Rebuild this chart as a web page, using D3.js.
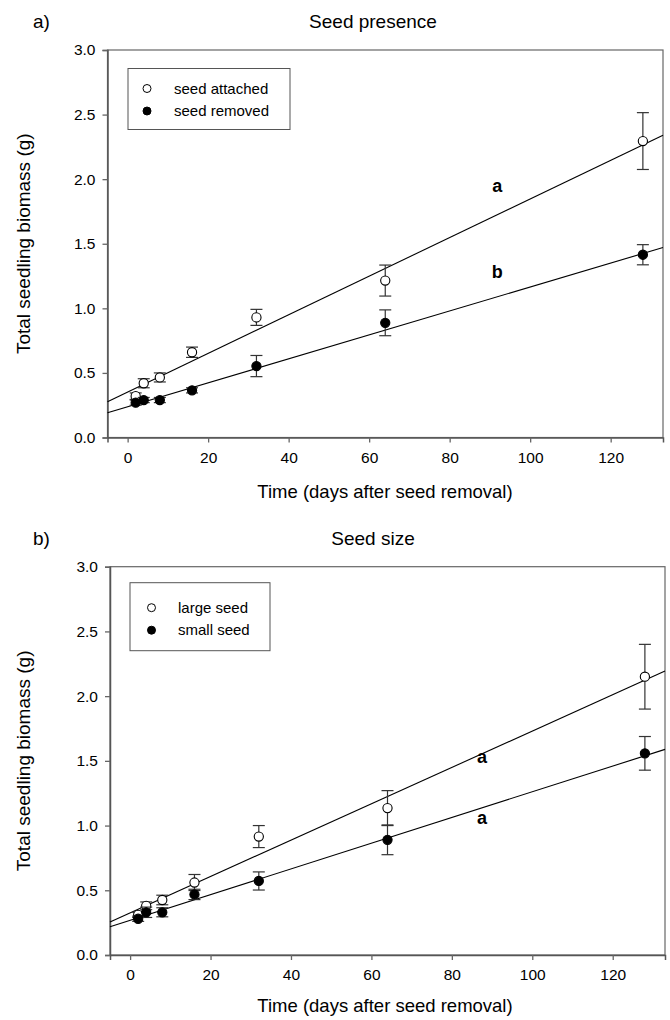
<!DOCTYPE html>
<html>
<head>
<meta charset="utf-8">
<script src="https://cdn.jsdelivr.net/npm/d3@7"></script>
<style>
  body { margin: 0; background: #fff; }
  svg { display: block; font-family: "Liberation Sans", Arial, sans-serif; }
</style>
</head>
<body>
<div id="chart"></div>
<script>
// sampling days
const days = [2, 4, 8, 16, 32, 64, 128];

// panel a: seed presence
const attachedMean = [0.32, 0.42, 0.465, 0.66, 0.93, 1.215, 2.295];
const attachedSE = [0.025, 0.035, 0.035, 0.04, 0.062, 0.12, 0.22];
const removedMean = [0.27, 0.29, 0.29, 0.365, 0.553, 0.888, 1.415];
const removedSE = [0.02, 0.02, 0.02, 0.02, 0.082, 0.1, 0.078];
const attachedFit = [0.352, 0.01495]; // intercept, slope
const removedFit = [0.238, 0.00927];

// panel b: seed size
const largeMean = [0.31, 0.38, 0.425, 0.56, 0.915, 1.135, 2.15];
const largeSE = [0.02, 0.03, 0.037, 0.062, 0.085, 0.135, 0.25];
const smallMean = [0.28, 0.33, 0.33, 0.468, 0.572, 0.89, 1.558];
const smallSE = [0.02, 0.04, 0.035, 0.04, 0.07, 0.115, 0.13];
const largeFit = [0.326, 0.01404];
const smallFit = [0.268, 0.00993];

const xTicks = [0, 20, 40, 60, 80, 100, 120];
const yTicks = [0, 0.5, 1, 1.5, 2, 2.5, 3];

const panels = [
  {
    tag: "a)", title: "Seed presence",
    left: 107.5, right: 663, top: 50, bottom: 437.5, xlab: 498,
    series: [
      { name: "seed attached", mean: attachedMean, se: attachedSE, fit: attachedFit, open: true },
      { name: "seed removed", mean: removedMean, se: removedSE, fit: removedFit, open: false }
    ],
    letters: [["a", 91.8, 1.95], ["b", 91.8, 1.28]],
    legend: { x: 128, y: 68.5, w: 162, h: 61, sym: 19, txt: 46, row0: 20, gap: 22.5 }
  },
  {
    tag: "b)", title: "Seed size",
    left: 110, right: 665, top: 566.7, bottom: 955, xlab: 1012,
    series: [
      { name: "large seed", mean: largeMean, se: largeSE, fit: largeFit, open: true },
      { name: "small seed", mean: smallMean, se: smallSE, fit: smallFit, open: false }
    ],
    letters: [["a", 87.5, 1.53], ["a", 87.5, 1.06]],
    legend: { x: 130, y: 582.7, w: 140, h: 68, sym: 21.5, txt: 48, row0: 25, gap: 22.5 }
  }
];

const svg = d3.select("#chart").append("svg")
  .attr("width", 670)
  .attr("height", 1020);

panels.forEach(p => {
  const x = d3.scaleLinear().domain([-5, 133]).range([p.left, p.right]);
  const y = d3.scaleLinear().domain([0, 3]).range([p.bottom, p.top]);
  const g = svg.append("g");

  // frame
  g.append("rect")
    .attr("x", p.left).attr("y", p.top)
    .attr("width", p.right - p.left).attr("height", p.bottom - p.top)
    .attr("fill", "none").attr("stroke", "#666").attr("stroke-width", 1.2);

  const xAxis = g.append("g")
    .attr("transform", `translate(0,${p.bottom})`)
    .call(d3.axisBottom(x).tickValues(xTicks).tickSize(5).tickPadding(9).tickFormat(d3.format("d")));
  const yAxis = g.append("g")
    .attr("transform", `translate(${p.left},0)`)
    .call(d3.axisLeft(y).tickValues(yTicks).tickSize(5).tickPadding(7).tickFormat(d3.format(".1f")));
  [xAxis, yAxis].forEach(a => {
    a.select(".domain").attr("stroke", "#555").attr("stroke-width", 1.5);
    a.selectAll(".tick line").attr("stroke", "#666").attr("stroke-width", 1.3);
    a.selectAll(".tick text").attr("fill", "#000").style("font-size", "15.5px")
      .style("font-family", "'Liberation Sans', Arial, sans-serif");
  });

  // titles
  g.append("text").attr("x", 33).attr("y", p.top - 22)
    .style("font-size", "19px").text(p.tag);
  g.append("text").attr("x", 373).attr("y", p.top - 22)
    .attr("text-anchor", "middle").style("font-size", "19px").text(p.title);
  g.append("text").attr("x", 385).attr("y", p.xlab)
    .attr("text-anchor", "middle").style("font-size", "18.5px")
    .text("Time (days after seed removal)");
  g.append("text")
    .attr("transform", `translate(30,${(p.top + p.bottom) / 2}) rotate(-90)`)
    .attr("text-anchor", "middle").style("font-size", "19px")
    .text("Total seedling biomass (g)");

  // regression lines
  p.series.forEach(s => {
    const [b0, b1] = s.fit;
    g.append("line")
      .attr("x1", x(-5)).attr("y1", y(b0 + b1 * -5))
      .attr("x2", x(133)).attr("y2", y(b0 + b1 * 133))
      .attr("stroke", "#000").attr("stroke-width", 1.1);
  });

  // error bars and points
  p.series.forEach(s => {
    const pts = days.map((d, i) => ({ d, m: s.mean[i], e: s.se[i] }));
    const eb = g.append("g").attr("stroke", "#333").attr("stroke-width", 1.2);
    pts.forEach(pt => {
      const cx = x(pt.d);
      eb.append("line").attr("x1", cx).attr("x2", cx)
        .attr("y1", y(pt.m - pt.e)).attr("y2", y(pt.m + pt.e));
      [pt.m - pt.e, pt.m + pt.e].forEach(v => {
        eb.append("line").attr("x1", cx - 6).attr("x2", cx + 6)
          .attr("y1", y(v)).attr("y2", y(v));
      });
    });
    g.selectAll(null).data(pts).enter().append("circle")
      .attr("cx", d => x(d.d)).attr("cy", d => y(d.m)).attr("r", 4.6)
      .attr("fill", s.open ? "#fff" : "#000")
      .attr("stroke", "#000").attr("stroke-width", 1.1);
  });

  // significance letters
  p.letters.forEach(([t, dx, dy]) => {
    g.append("text").attr("x", x(dx)).attr("y", y(dy))
      .attr("text-anchor", "middle").attr("dy", "0.35em")
      .style("font-size", "18px").style("font-weight", "bold").text(t);
  });

  // legend
  const L = p.legend;
  g.append("rect").attr("x", L.x).attr("y", L.y).attr("width", L.w).attr("height", L.h)
    .attr("fill", "#fff").attr("stroke", "#555").attr("stroke-width", 1);
  p.series.forEach((s, i) => {
    const cy = L.y + L.row0 + i * L.gap;
    g.append("circle").attr("cx", L.x + L.sym).attr("cy", cy).attr("r", 4)
      .attr("fill", s.open ? "#fff" : "#000").attr("stroke", "#000").attr("stroke-width", 1);
    g.append("text").attr("x", L.x + L.txt).attr("y", cy).attr("dy", "0.35em")
      .style("font-size", "15px").text(s.name);
  });
});
</script>
</body>
</html>
